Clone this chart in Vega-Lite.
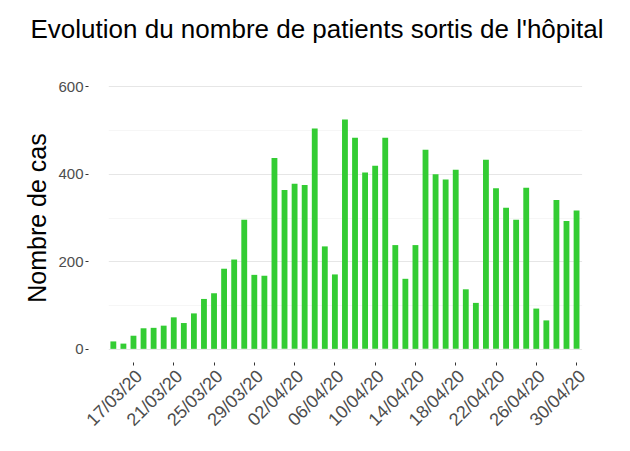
{
  "$schema": "https://vega.github.io/schema/vega-lite/v6.json",
  "width": 514,
  "height": 289,
  "autosize": {"type": "none"},
  "padding": {"left": 88, "top": 73, "right": 28, "bottom": 89},
  "background": "white",
  "config": {"view": {"stroke": null}, "font": "Liberation Sans"},
  "title": {
    "text": "Evolution du nombre de patients sortis de l'hôpital",
    "fontSize": 26,
    "font": "Liberation Sans",
    "fontWeight": "normal",
    "color": "black",
    "anchor": "middle",
    "frame": "group",
    "dx": -28,
    "offset": 30
  },
  "data": {
    "values": [
      {"date": "15/03/20", "cas": 17},
      {"date": "16/03/20", "cas": 12},
      {"date": "17/03/20", "cas": 30},
      {"date": "18/03/20", "cas": 47},
      {"date": "19/03/20", "cas": 48},
      {"date": "20/03/20", "cas": 53},
      {"date": "21/03/20", "cas": 72},
      {"date": "22/03/20", "cas": 59},
      {"date": "23/03/20", "cas": 81},
      {"date": "24/03/20", "cas": 114},
      {"date": "25/03/20", "cas": 127},
      {"date": "26/03/20", "cas": 183},
      {"date": "27/03/20", "cas": 204},
      {"date": "28/03/20", "cas": 295},
      {"date": "29/03/20", "cas": 169},
      {"date": "30/03/20", "cas": 167},
      {"date": "31/03/20", "cas": 436},
      {"date": "01/04/20", "cas": 363},
      {"date": "02/04/20", "cas": 377},
      {"date": "03/04/20", "cas": 374},
      {"date": "04/04/20", "cas": 503},
      {"date": "05/04/20", "cas": 234},
      {"date": "06/04/20", "cas": 170},
      {"date": "07/04/20", "cas": 524},
      {"date": "08/04/20", "cas": 482},
      {"date": "09/04/20", "cas": 403},
      {"date": "10/04/20", "cas": 418},
      {"date": "11/04/20", "cas": 482},
      {"date": "12/04/20", "cas": 237},
      {"date": "13/04/20", "cas": 160},
      {"date": "14/04/20", "cas": 237},
      {"date": "15/04/20", "cas": 455},
      {"date": "16/04/20", "cas": 399},
      {"date": "17/04/20", "cas": 387},
      {"date": "18/04/20", "cas": 409},
      {"date": "19/04/20", "cas": 136},
      {"date": "20/04/20", "cas": 105},
      {"date": "21/04/20", "cas": 432},
      {"date": "22/04/20", "cas": 367},
      {"date": "23/04/20", "cas": 322},
      {"date": "24/04/20", "cas": 295},
      {"date": "25/04/20", "cas": 368},
      {"date": "26/04/20", "cas": 92},
      {"date": "27/04/20", "cas": 65},
      {"date": "28/04/20", "cas": 340},
      {"date": "29/04/20", "cas": 292},
      {"date": "30/04/20", "cas": 316}
    ]
  },
  "mark": {"type": "bar", "color": "#33CC33"},
  "encoding": {
    "x": {
      "field": "date",
      "type": "ordinal",
      "sort": null,
      "scale": {"paddingInner": 0.42, "paddingOuter": 0.21, "range": [20.3, 493.6]},
      "axis": {
        "title": null,
        "values": ["17/03/20", "21/03/20", "25/03/20", "29/03/20", "02/04/20", "06/04/20", "10/04/20", "14/04/20", "18/04/20", "22/04/20", "26/04/20", "30/04/20"],
        "labelAngle": -45,
        "labelAlign": "right",
        "labelBaseline": "top",
        "labelFontSize": 18,
        "labelFont": "Liberation Sans",
        "labelColor": "#4d4d4d",
        "labelPadding": 2,
        "domain": false,
        "ticks": true,
        "tickSize": 3,
        "tickColor": "#333333",
        "grid": false
      }
    },
    "y": {
      "field": "cas",
      "type": "quantitative",
      "scale": {"domain": [-30, 630], "nice": false, "zero": false},
      "axis": {
        "title": "Nombre de cas",
        "titleFontSize": 25,
        "titleFont": "Liberation Sans",
        "titleFontWeight": "normal",
        "titleColor": "black",
        "titlePadding": 7,
        "values": [0, 100, 200, 300, 400, 500, 600],
        "labelExpr": "datum.value % 200 === 0 ? datum.label : ''",
        "labelFontSize": 15,
        "labelFont": "Liberation Sans",
        "labelColor": "#4d4d4d",
        "labelPadding": 2,
        "domain": false,
        "tickSize": 3,
        "tickColor": "#333333",
        "tickOpacity": {"condition": {"test": "datum.value % 200 === 0", "value": 1}, "value": 0},
        "grid": true,
        "gridColor": {"condition": {"test": "datum.value % 200 === 0", "value": "#e6e6e6"}, "value": "#f2f2f2"},
        "gridWidth": {"condition": {"test": "datum.value % 200 === 0", "value": 1}, "value": 0.7}
      }
    }
  }
}
